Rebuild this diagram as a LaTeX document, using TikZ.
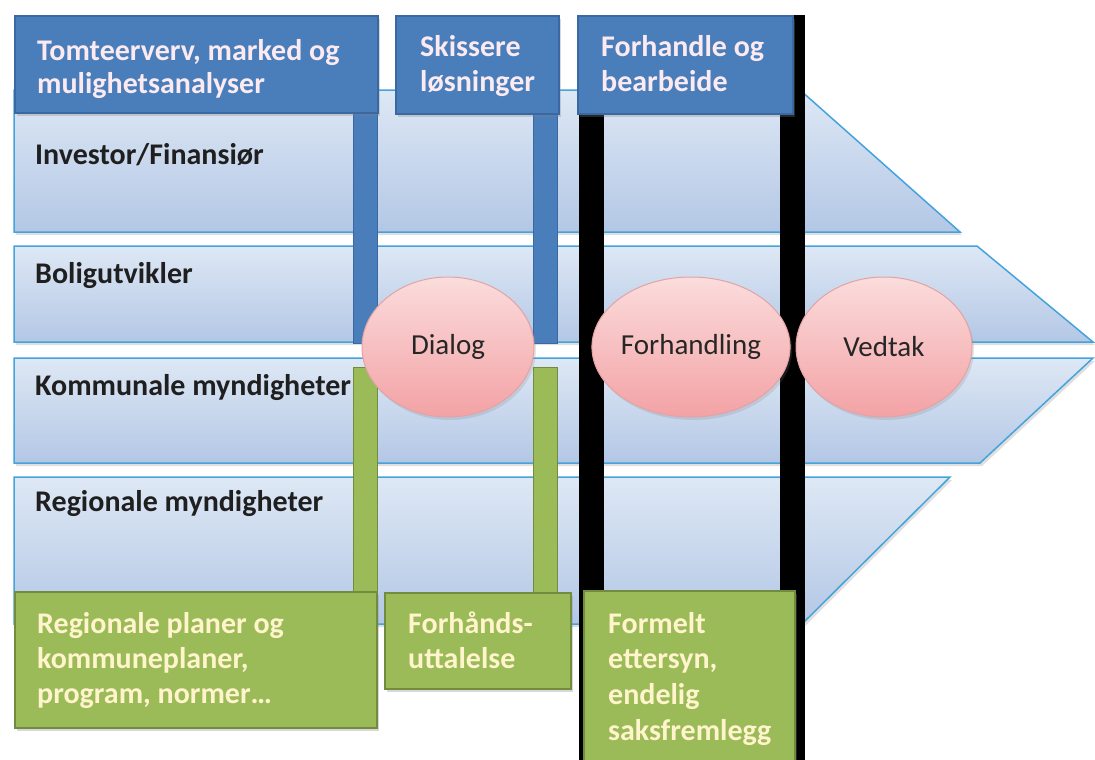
\documentclass[tikz,border=0pt]{standalone}
\usepackage{fontspec}
\setmainfont{Carlito}
\usetikzlibrary{shapes.geometric,shadows}
\definecolor{rowline}{HTML}{45A3DC}
\definecolor{rowtop}{HTML}{DEE8F5}
\definecolor{rowbot}{HTML}{B3C7E5}
\definecolor{hdrfill}{HTML}{4A7EBB}
\definecolor{hdrline}{HTML}{3A68A2}
\definecolor{grnfill}{HTML}{9BBB59}
\definecolor{grnline}{HTML}{728B3E}
\definecolor{elltop}{HTML}{FBDCDC}
\definecolor{ellbot}{HTML}{F3A2A5}
\definecolor{ellline}{HTML}{E2A3A5}
\definecolor{hdrtext}{HTML}{FBEAF0}
\definecolor{grntext}{HTML}{FFF4CC}
\tikzset{
  rowshape/.style={draw=rowline, line width=1.5pt, top color=rowtop, bottom color=rowbot,
    drop shadow={opacity=0.25, shadow xshift=2pt, shadow yshift=-3pt}},
  hdrbox/.style={draw=hdrline, line width=2pt, fill=hdrfill, rectangle, inner sep=0pt, anchor=north west,
    drop shadow={opacity=0.3, shadow xshift=2pt, shadow yshift=-3pt}},
  bluebar/.style={draw=hdrline, line width=1pt, fill=hdrfill},
  greenbar/.style={draw=grnline, line width=1pt, fill=grnfill},
  blackbar/.style={fill=black},
  grnbox/.style={draw=grnline, line width=2pt, fill=grnfill, rectangle, inner sep=0pt, anchor=north west,
    drop shadow={opacity=0.3, shadow xshift=2pt, shadow yshift=-3pt}},
  ell/.style={ellipse, draw=ellline, line width=1pt, top color=elltop, bottom color=ellbot,
    inner sep=0pt, font=\fontsize{29}{35}\selectfont, text=black!85,
    drop shadow={opacity=0.2, shadow xshift=2pt, shadow yshift=-3pt}},
  lbl/.style={anchor=base west, inner sep=0pt, font=\bfseries\fontsize{30}{36}\selectfont},
  hdrtxt/.style={lbl, text=hdrtext},
  rowtxt/.style={lbl, text=black!88},
  grntxt/.style={lbl, text=grntext},
}
\begin{document}
\begin{tikzpicture}[x=1pt,y=-1pt]
\useasboundingbox[fill=white] (0,0) rectangle (1095,760);
% rows
\path[rowshape] (14,90) -- (800,90) -- (960,232) -- (14,232) -- cycle;
\path[rowshape] (14,246) -- (977,246) -- (1093,342) -- (14,342) -- cycle;
\path[rowshape] (14,358) -- (1093,358) -- (980,463) -- (14,463) -- cycle;
\path[rowshape] (14,477) -- (950,477) -- (802,624) -- (14,624) -- cycle;
% row labels
\node[rowtxt] (r1) at (35,164) {Investor/Finansiør};
\node[rowtxt] (r2) at (35,283) {Boligutvikler};
\node[rowtxt] (r3) at (35,395) {Kommunale myndigheter};
\node[rowtxt] (r4) at (35,511) {Regionale myndigheter};
% bars
\path[bluebar] (353,110) rectangle (377,343);
\path[bluebar] (533,110) rectangle (557,343);
\path[greenbar] (353,367) rectangle (377,593);
\path[greenbar] (533,367) rectangle (557,593);
\path[blackbar] (579,110) rectangle (604,760);
\path[blackbar] (780,15) rectangle (805,760);
% ellipses
\node[ell, minimum width=172pt, minimum height=140pt] (dialog) at (448,347) {Dialog};
\node[ell, minimum width=176pt, minimum height=140pt] (forh) at (691,347) {Forhandling};
\node[ell, minimum width=176pt, minimum height=140pt] (vedtak) at (884,347) {Vedtak};
% headers
\node[hdrbox, minimum width=363pt, minimum height=97pt] (h1) at (14,15) {};
\node[hdrbox, minimum width=163pt, minimum height=98pt] (h2) at (395,15) {};
\node[hdrbox, minimum width=215pt, minimum height=98pt] (h3) at (577,15) {};
\node[hdrtxt] (h1a) at (37,60) {Tomteerverv, marked og};
\node[hdrtxt] (h1b) at (37,93) {mulighetsanalyser};
\node[hdrtxt] (h2a) at (420,57) {Skissere};
\node[hdrtxt] (h2b) at (420,92) {løsninger};
\node[hdrtxt] (h3a) at (601,57) {Forhandle og};
\node[hdrtxt] (h3b) at (601,92) {bearbeide};
% green boxes
\node[grnbox, minimum width=362pt, minimum height=136pt] (g1) at (14,591) {};
\node[grnbox, minimum width=186pt, minimum height=96pt] (g2) at (384,592) {};
\node[grnbox, minimum width=211pt, minimum height=175pt] (g3) at (583,590) {};
\node[grntxt] (g1a) at (37,633) {Regionale planer og};
\node[grntxt] (g1b) at (37,668) {kommuneplaner,};
\node[grntxt] (g1c) at (37,703) {program, normer…};
\node[grntxt] (g2a) at (408,633) {Forhånds-};
\node[grntxt] (g2b) at (408,668) {uttalelse};
\node[grntxt] (g3a) at (608,633) {Formelt};
\node[grntxt] (g3b) at (608,668) {ettersyn,};
\node[grntxt] (g3c) at (608,704) {endelig};
\node[grntxt] (g3d) at (608,740) {saksfremlegg};
\end{tikzpicture}
\end{document}
